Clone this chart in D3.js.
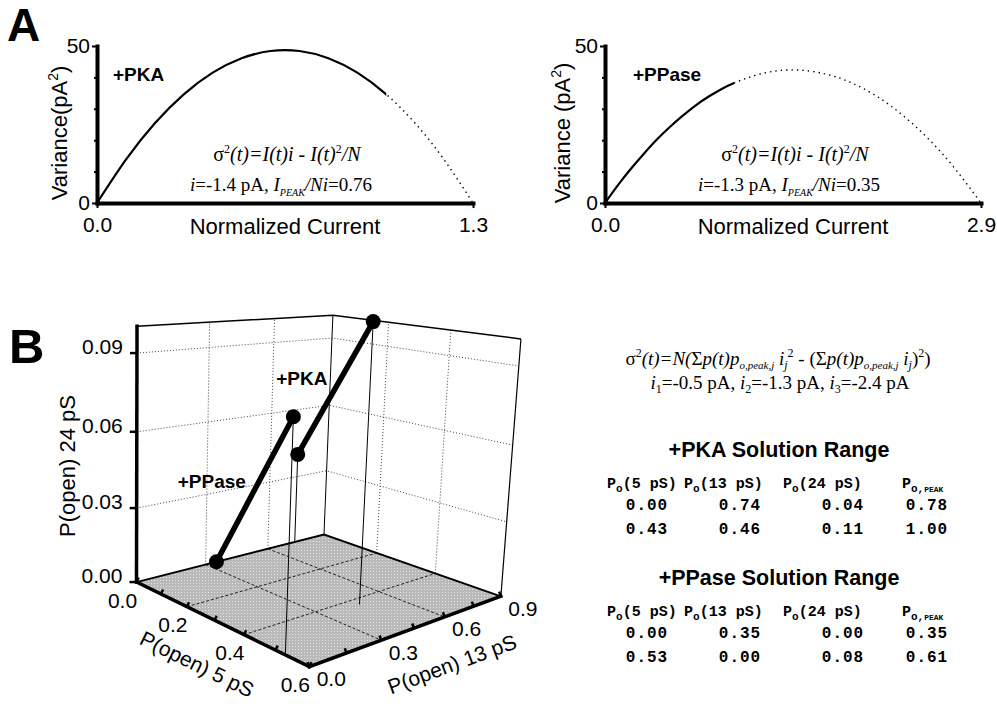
<!DOCTYPE html>
<html>
<head>
<meta charset="utf-8">
<script src="https://cdn.jsdelivr.net/npm/d3@7"></script>
<style>
  body { margin: 0; background: #fff; }
  text { white-space: pre; }
</style>
</head>
<body>
<div id="chart"></div>
<script>
// ---- panel A data ----
const pkaCurrent = [0, 0.1, 0.2, 0.3, 0.4, 0.5, 0.6, 0.7, 0.8, 0.9, 1.0, 1.1, 1.2, 1.3];
const pkaVariance = [0, 13.8, 25.4, 34.6, 41.5, 46.1, 48.4, 48.4, 46.1, 41.5, 34.6, 25.4, 13.8, 0];
const ppaseCurrent = [0, 0.1, 0.2, 0.3, 0.4, 0.5, 0.6, 0.7, 0.8, 0.9, 1.0, 1.2, 1.45, 1.7, 1.9, 2.1, 2.3, 2.5, 2.7, 2.9];
const ppaseVariance = [0, 5.7, 10.9, 15.7, 20.2, 24.2, 27.8, 31.1, 33.9, 36.3, 38.3, 41.1, 42.4, 41.1, 38.3, 33.9, 27.8, 20.2, 10.9, 0];
const varianceTicks = [0, 50];
const varianceMinor = [10, 20, 30, 40];

// ---- panel B data: solution ranges ----
const pkaP5 = [0.00, 0.43];
const pkaP13 = [0.74, 0.46];
const pkaP24 = [0.04, 0.106];
const pkaPeak = [0.78, 1.00];
const ppaseP5 = [0.00, 0.53];
const ppaseP13 = [0.35, 0.00];
const ppaseP24 = [0.00, 0.08];
const ppasePeak = [0.35, 0.61];
const channelCurrents = [-0.5, -1.3, -2.4];

const p5Ticks = [0, 0.2, 0.4, 0.6];
const p5Minor = [0, 0.1, 0.2, 0.3, 0.4, 0.5, 0.6];
const p13Ticks = [0, 0.3, 0.6, 0.9];
const p13Minor = [0, 0.15, 0.3, 0.45, 0.6, 0.75, 0.9];
const p24Ticks = [0, 0.03, 0.06, 0.09];

const SANS = 'Arial, "Liberation Sans", sans-serif';
const SERIF = '"Times New Roman", "Liberation Serif", serif';
const MONO = '"Courier New", "Liberation Mono", monospace';

const svg = d3.select('#chart').append('svg')
    .attr('width', 997)
    .attr('height', 704)
    .style('background', '#fff');
const defs = svg.append('defs');

// text made of tspans; sh = baseline shift in px (up is positive)
function richText(sel, parts) {
    let shift = 0;
    parts.forEach(p => {
        const s = p.sh || 0;
        const ts = sel.append('tspan').text(p.t);
        if (s !== shift) ts.attr('dy', shift - s);
        if (p.dx) ts.attr('dx', p.dx);
        if (p.it) ts.style('font-style', 'italic');
        if (p.sz) ts.style('font-size', p.sz + 'px');
        shift = s;
    });
    return sel;
}

svg.append('text').attr('x', 7).attr('y', 41)
    .style('font', `bold 46px ${SANS}`).text('A');
svg.append('text').attr('x', 9).attr('y', 363)
    .style('font', `bold 49px ${SANS}`).text('B');

function variancePanel(cfg) {
    const x = d3.scaleLinear().domain([0, cfg.xMax]).range(cfg.xRange);
    const y = d3.scaleLinear().domain([0, 50]).range([203, 46]);
    const g = svg.append('g');
    const pts = cfg.current.map((c, i) => [c, cfg.variance[i]]);
    const line = d3.line().x(d => x(d[0])).y(d => y(d[1])).curve(d3.curveNatural);

    defs.append('clipPath').attr('id', cfg.id + '-solid')
        .append('rect').attr('x', 0).attr('y', 0).attr('width', x(cfg.peak)).attr('height', 300);
    defs.append('clipPath').attr('id', cfg.id + '-dot')
        .append('rect').attr('x', x(cfg.peak)).attr('y', 0).attr('width', 997).attr('height', 300);

    g.append('path').datum(pts)
        .attr('d', line).attr('fill', 'none').attr('stroke', '#000')
        .attr('stroke-width', 2.2)
        .attr('clip-path', `url(#${cfg.id}-solid)`);
    g.append('path').datum(pts)
        .attr('d', line).attr('fill', 'none').attr('stroke', '#000')
        .attr('stroke-width', 1.4).attr('stroke-dasharray', '1.4,4')
        .attr('clip-path', `url(#${cfg.id}-dot)`);

    const xAxis = g.append('g')
        .attr('transform', `translate(0,${y(0)})`)
        .call(d3.axisBottom(x).tickValues([0, cfg.xMax]).tickSize(5).tickSizeOuter(0)
            .tickPadding(9).tickFormat(d3.format('.1f')));
    const yAxis = g.append('g')
        .attr('transform', `translate(${x(0)},0)`)
        .call(d3.axisLeft(y).tickValues(varianceTicks).tickSize(5).tickSizeOuter(0).tickPadding(2));
    const yMinor = g.append('g')
        .attr('transform', `translate(${x(0)},0)`)
        .call(d3.axisLeft(y).tickValues(varianceMinor).tickSize(3).tickFormat(''));
    yMinor.select('.domain').remove();
    [xAxis, yAxis, yMinor].forEach(ax => {
        ax.attr('font-size', 21).attr('font-family', SANS);
        ax.select('.domain').attr('stroke-width', 4).attr('stroke-linecap', 'square');
        ax.selectAll('.tick line').attr('stroke-width', 2);
        ax.selectAll('.tick text').attr('fill', '#000');
    });

    richText(g.append('text')
        .attr('transform', `translate(${cfg.yLabelX},133) rotate(-90)`)
        .attr('text-anchor', 'middle')
        .style('font', `22px ${SANS}`),
        [{t: cfg.yLabel}, {t: '2', sz: 14, sh: 9}, {t: ')'}]);

    g.append('text')
        .attr('x', (cfg.xRange[0] + cfg.xRange[1]) / 2).attr('y', 234)
        .attr('text-anchor', 'middle')
        .style('font', `22px ${SANS}`)
        .text('Normalized Current');

    g.append('text')
        .attr('x', x(0) + cfg.tagDx).attr('y', 81)
        .style('font', `bold 19px ${SANS}`)
        .text(cfg.tag);

    richText(g.append('text')
        .attr('x', x(0) + 190).attr('y', 161)
        .attr('text-anchor', 'middle')
        .style('font', `20px ${SERIF}`),
        [{t: 'σ'}, {t: '2', sz: 12, sh: 8}, {t: '(t)=I(t)i', it: true}, {t: ' - '},
         {t: 'I(t)', it: true}, {t: '2', sz: 12, sh: 8}, {t: '/N', it: true}]);

    richText(g.append('text')
        .attr('x', x(0) + 184).attr('y', 191)
        .attr('text-anchor', 'middle')
        .style('font', `19px ${SERIF}`),
        [{t: 'i', it: true}, {t: `=${cfg.unit.toFixed(1)} pA, `}, {t: 'I', it: true},
         {t: 'PEAK', it: true, sz: 10, sh: -5}, {t: '/Ni', it: true}, {t: `=${cfg.ratio.toFixed(2)}`}]);
}

variancePanel({
    id: 'pka', current: pkaCurrent, variance: pkaVariance, xMax: 1.3, peak: 1.0,
    xRange: [97, 473], yLabel: 'Variance(pA', yLabelX: 67, tag: '+PKA', tagDx: 16,
    unit: -1.4, ratio: 0.76
});
variancePanel({
    id: 'ppase', current: ppaseCurrent, variance: ppaseVariance, xMax: 2.9, peak: 1.0,
    xRange: [605, 981], yLabel: 'Variance (pA', yLabelX: 570, tag: '+PPase', tagDx: 28,
    unit: -1.3, ratio: 0.35
});

// ---- panel B: 3D box ----
// screen positions of the box frame (normalised box units -> px); a perspective
// camera matrix is fitted to these
const boxAnchors = [
    [0, 0, 0, 137, 582], [1, 0, 0, 308, 667], [1, 1, 0, 502, 595], [0, 1, 0, 323, 535],
    [0, 0, 1, 137, 325], [0, 1, 1, 333, 315], [1, 1, 1, 521, 339],
    [0, 0, 0.3, 137, 508], [0, 0, 0.6, 137, 433], [0, 0, 0.9, 137, 353],
    [1, 1, 0.3, 507, 522], [1, 1, 0.6, 513, 445], [1, 1, 0.9, 518, 367]
];

function fitCamera(anchors) {
    const cu = 330, cv = 490, s = 200;
    const rows = [], rhs = [];
    anchors.forEach(([X, Y, Z, u, v]) => {
        const un = (u - cu) / s, vn = (v - cv) / s;
        rows.push([X, Y, Z, 1, 0, 0, 0, 0, -un * X, -un * Y, -un * Z]); rhs.push(un);
        rows.push([0, 0, 0, 0, X, Y, Z, 1, -vn * X, -vn * Y, -vn * Z]); rhs.push(vn);
    });
    const n = 11;
    const M = d3.range(n).map(() => new Array(n + 1).fill(0));
    rows.forEach((r, k) => {
        for (let i = 0; i < n; i++) {
            for (let j = 0; j < n; j++) M[i][j] += r[i] * r[j];
            M[i][n] += r[i] * rhs[k];
        }
    });
    for (let c = 0; c < n; c++) {
        let p = c;
        for (let r = c + 1; r < n; r++) if (Math.abs(M[r][c]) > Math.abs(M[p][c])) p = r;
        [M[c], M[p]] = [M[p], M[c]];
        for (let r = 0; r < n; r++) {
            if (r === c) continue;
            const f = M[r][c] / M[c][c];
            for (let k = c; k <= n; k++) M[r][k] -= f * M[c][k];
        }
    }
    const q = M.map((r, i) => r[n] / r[i]);
    return (X, Y, Z) => {
        const w = q[8] * X + q[9] * Y + q[10] * Z + 1;
        return [cu + s * (q[0] * X + q[1] * Y + q[2] * Z + q[3]) / w,
                cv + s * (q[4] * X + q[5] * Y + q[6] * Z + q[7]) / w];
    };
}

const camera = fitCamera(boxAnchors);
const x5 = d3.scaleLinear().domain([0, 0.6]).range([0, 1]);
const y13 = d3.scaleLinear().domain([0, 0.9]).range([0, 1]);
const z24 = d3.scaleLinear().domain([0, 0.1]).range([0, 1]);
const at = (a, b, c) => camera(x5(a), y13(b), z24(c));
const P5 = 0.6, P13 = 0.9, P24 = 0.1;

const g3 = svg.append('g');
const poly = (pts, w, dash, color) => g3.append('path')
    .attr('d', 'M' + pts.map(p => at(...p)).join('L'))
    .attr('fill', 'none')
    .attr('stroke', color || '#000')
    .attr('stroke-width', w)
    .attr('stroke-dasharray', dash || null);

// floor, halftone grey
const stip = defs.append('pattern').attr('id', 'stipple')
    .attr('width', 3).attr('height', 3).attr('patternUnits', 'userSpaceOnUse');
stip.append('rect').attr('width', 3).attr('height', 3).attr('fill', '#b9b9b9');
stip.append('rect').attr('x', 1).attr('y', 1).attr('width', 1).attr('height', 1).attr('fill', '#e6e6e6');
g3.append('path')
    .attr('d', 'M' + [[0, 0, 0], [P5, 0, 0], [P5, P13, 0], [0, P13, 0]].map(p => at(...p)).join('L') + 'Z')
    .attr('fill', 'url(#stipple)');

// floor grid
p5Ticks.slice(1, -1).forEach(v => poly([[v, 0, 0], [v, P13, 0]], 1, '3,2', '#222'));
p13Ticks.slice(1, -1).forEach(v => poly([[0, v, 0], [P5, v, 0]], 1, '3,2', '#222'));

// wall grids
p24Ticks.slice(1).forEach(z => poly([[0, 0, z], [0, P13, z], [P5, P13, z]], 1, '1,2', '#444'));
p13Ticks.slice(1, -1).forEach(v => poly([[0, v, 0], [0, v, P24]], 1, '1,2', '#444'));
p5Ticks.slice(1, -1).forEach(v => poly([[v, P13, 0], [v, P13, P24]], 1, '1,2', '#444'));

// box frame
poly([[0, 0, 0], [0, P13, 0], [P5, P13, 0]], 1.8);
poly([[0, P13, 0], [0, P13, P24]], 1);
poly([[P5, P13, 0], [P5, P13, P24]], 1.2);
poly([[0, 0, P24], [0, P13, P24], [P5, P13, P24]], 1.5);

// drop lines to the floor
const conditions = [
    {name: '+PKA', p5: pkaP5, p13: pkaP13, p24: pkaP24, dx: -8, dy: -3},
    {name: '+PPase', p5: ppaseP5, p13: ppaseP13, p24: ppaseP24, dx: -9, dy: -1}
];
conditions.forEach(c => {
    c.p5.forEach((v, i) => {
        if (c.p24[i] > 0) poly([[v, c.p13[i], c.p24[i]], [v, c.p13[i], 0]], 1);
    });
});

// axes
poly([[0, 0, 0], [0, 0, P24]], 3.5).attr('stroke-linecap', 'square');
poly([[0, 0, 0], [P5, 0, 0]], 3.5).attr('stroke-linecap', 'square');
poly([[P5, 0, 0], [P5, P13, 0]], 3.5).attr('stroke-linecap', 'square');

function tickMarks(points, nx, ny, len) {
    points.forEach(p => {
        const [u, v] = at(...p);
        g3.append('line')
            .attr('x1', u).attr('y1', v)
            .attr('x2', u + nx * len).attr('y2', v + ny * len)
            .attr('stroke', '#000').attr('stroke-width', 2.5);
    });
}
function outward(a, b, sign) {
    const [u1, v1] = at(...a), [u2, v2] = at(...b);
    const L = Math.hypot(u2 - u1, v2 - v1);
    return [sign * -(v2 - v1) / L, sign * (u2 - u1) / L];
}
tickMarks(p24Ticks.map(z => [0, 0, z]), -1, 0, 7);
const n5 = outward([0, 0, 0], [P5, 0, 0], -1);
tickMarks(p5Minor.map(v => [v, 0, 0]), n5[0], n5[1], 5);
const n13 = outward([P5, 0, 0], [P5, P13, 0], -1);
tickMarks(p13Minor.map(v => [P5, v, 0]), n13[0], n13[1], 5);

const fmt2 = d3.format('.2f'), fmt1 = d3.format('.1f');
p24Ticks.forEach(z => {
    const [u, v] = at(0, 0, z);
    g3.append('text').attr('x', u - 14).attr('y', v + 1)
        .attr('text-anchor', 'end')
        .style('font', `21px ${SANS}`).text(fmt2(z));
});
p5Ticks.forEach(t => {
    const [u, v] = at(t, 0, 0);
    g3.append('text').attr('x', u - 14).attr('y', v + 18)
        .attr('text-anchor', 'middle').attr('dominant-baseline', 'central')
        .style('font', `21px ${SANS}`).text(fmt1(t));
});
p13Ticks.forEach(t => {
    const [u, v] = at(P5, t, 0);
    g3.append('text').attr('x', u + 22).attr('y', v + 12)
        .attr('text-anchor', 'middle').attr('dominant-baseline', 'central')
        .style('font', `21px ${SANS}`).text(fmt1(t));
});

g3.append('text')
    .attr('transform', 'translate(67,466) rotate(-90)')
    .attr('text-anchor', 'middle').attr('dominant-baseline', 'central')
    .style('font', `22px ${SANS}`).text('P(open) 24 pS');
{
    const [u1, v1] = at(0, 0, 0), [u2, v2] = at(P5, 0, 0);
    const ang = Math.atan2(v2 - v1, u2 - u1) * 180 / Math.PI;
    g3.append('text')
        .attr('transform', `translate(197,664) rotate(${ang})`)
        .attr('text-anchor', 'middle').attr('dominant-baseline', 'central')
        .style('font', `21px ${SANS}`).text('P(open) 5 pS');
}
{
    const [u1, v1] = at(P5, 0, 0), [u2, v2] = at(P5, P13, 0);
    const ang = Math.atan2(v2 - v1, u2 - u1) * 180 / Math.PI;
    g3.append('text')
        .attr('transform', `translate(452,664) rotate(${ang})`)
        .attr('text-anchor', 'middle').attr('dominant-baseline', 'central')
        .style('font', `21px ${SANS}`).text('P(open) 13 pS');
}

// solution-range segments
conditions.forEach(c => {
    const ends = c.p5.map((v, i) => at(v, c.p13[i], c.p24[i]));
    g3.append('path')
        .attr('d', 'M' + ends.join('L'))
        .attr('stroke', '#000').attr('stroke-width', 5.5)
        .attr('stroke-linecap', 'round').attr('fill', 'none');
    g3.selectAll(null).data(ends).enter().append('circle')
        .attr('cx', d => d[0]).attr('cy', d => d[1]).attr('r', 7.5)
        .attr('fill', '#000');
    const mid = [(ends[0][0] + ends[1][0]) / 2, (ends[0][1] + ends[1][1]) / 2];
    g3.append('text')
        .attr('x', mid[0] + c.dx).attr('y', mid[1] + c.dy)
        .attr('text-anchor', 'end')
        .style('font', `bold 19px ${SANS}`).text(c.name);
});

// ---- panel B: formula and tables ----
richText(svg.append('text')
    .attr('x', 778).attr('y', 365).attr('text-anchor', 'middle')
    .style('font', `19px ${SERIF}`),
    [{t: 'σ'}, {t: '2', sz: 12, sh: 8}, {t: '(t)=N(', it: true}, {t: 'Σ'}, {t: 'p(t)p', it: true},
     {t: 'o,peak,j', it: true, sz: 11, sh: -4}, {t: ' i', it: true}, {t: 'j', it: true, sz: 12, sh: -4},
     {t: '2', sz: 12, sh: 8}, {t: ' - ('}, {t: 'Σ'}, {t: 'p(t)p', it: true},
     {t: 'o,peak,j', it: true, sz: 11, sh: -4}, {t: ' i', it: true}, {t: 'j', it: true, sz: 12, sh: -4},
     {t: ')'}, {t: '2', sz: 12, sh: 8}, {t: ')'}]);

const iParts = [];
channelCurrents.forEach((c, k) => {
    iParts.push({t: 'i', it: true}, {t: String(k + 1), sz: 12, sh: -4},
        {t: `=${c.toFixed(1)} pA` + (k < channelCurrents.length - 1 ? ', ' : '')});
});
richText(svg.append('text')
    .attr('x', 780).attr('y', 389).attr('text-anchor', 'middle')
    .style('font', `19px ${SERIF}`), iParts);

const colStart = [607, 684, 783, 902];
const colMid = [647, 740, 843, 927];
const headers = ['(5 pS)', '(13 pS)', '(24 pS)', null];

function solutionTable(title, cols, top) {
    svg.append('text')
        .attr('x', 779).attr('y', top).attr('text-anchor', 'middle')
        .style('font', `bold 21.5px ${SANS}`).text(title);
    headers.forEach((h, i) => {
        const t = svg.append('text').attr('x', colStart[i]).attr('y', top + 31)
            .style('font', `bold 15px ${MONO}`);
        if (h) richText(t, [{t: 'P'}, {t: 'o', sz: 11, sh: -4}, {t: h}]);
        else richText(t, [{t: 'P'}, {t: 'o,', sz: 11, sh: -4}, {t: 'PEAK', sz: 8, sh: -4}]);
    });
    [0, 1].forEach(r => {
        cols.forEach((col, i) => {
            svg.append('text')
                .attr('x', colMid[i]).attr('y', top + 53 + r * 24)
                .attr('text-anchor', 'middle')
                .style('font', `bold 16px ${MONO}`)
                .style('letter-spacing', '1px')
                .text(fmt2(col[r]));
        });
    });
}
solutionTable('+PKA Solution Range', [pkaP5, pkaP13, pkaP24, pkaPeak], 457);
solutionTable('+PPase Solution Range', [ppaseP5, ppaseP13, ppaseP24, ppasePeak], 585);
</script>
</body>
</html>
